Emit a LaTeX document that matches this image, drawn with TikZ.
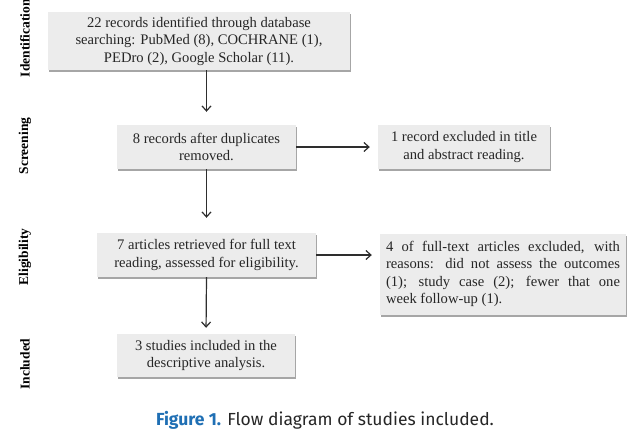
\documentclass[tikz,border=0pt]{standalone}
\usepackage{fontspec}
\setmainfont{Liberation Serif}
\newfontfamily\capfont{Fira Sans}
\usetikzlibrary{arrows.meta,shadows}
\definecolor{boxfill}{HTML}{ECECEC}
\definecolor{capblue}{HTML}{1F6FB4}
\definecolor{linec}{HTML}{2E2E2E}
\tikzset{
  flowbox/.style={rectangle, fill=boxfill, inner sep=3pt, align=center, text=black!85,
    font=\fontsize{14.6}{17.5}\selectfont,
    drop shadow={shadow xshift=0.8pt, shadow yshift=-2pt, fill=black, opacity=0.35}},
  phase/.style={rotate=90, font=\fontsize{13.5}{15}\selectfont\bfseries},
  flowarrow/.style={draw=linec, line width=1.2pt, -{Straight Barb[length=5pt,width=9pt,line width=1.2pt]}}
}
\begin{document}
\begin{tikzpicture}[x=1pt,y=-1pt]
\useasboundingbox (0,0) rectangle (640,447);
\fill[white] (0,0) rectangle (640,447);

\node[phase] (lid) at (25,38) {Identification};
\node[phase] (lsc) at (25,146) {Screening};
\node[phase] (lel) at (25,257) {Eligibility};
\node[phase] (lin) at (25,364) {Included};

\node[flowbox, minimum width=302pt, minimum height=58pt] (b1) at (199,41)
  {22 records identified through database\\searching: PubMed (8), COCHRANE (1),\\PEDro (2), Google Scholar (11).};
\node[flowbox, minimum width=179pt, minimum height=44pt] (b2) at (206.5,147)
  {8 records after duplicates\\removed.};
\node[flowbox, minimum width=172pt, minimum height=44pt] (b3) at (464,147)
  {1 record excluded in title\\and abstract reading.};
\node[flowbox, minimum width=219pt, minimum height=44pt] (b4) at (206.5,255)
  {7 articles retrieved for full text\\reading, assessed for eligibility.};
\node[flowbox, minimum width=246pt, minimum height=81pt, text width=234pt, align=justify] (b5) at (503,274)
  {\hyphenpenalty=10000 4 of full-text articles excluded, with\linebreak reasons: did not assess the outcomes\linebreak (1); study case (2); fewer that one\linebreak week follow-up (1).};
\node[flowbox, minimum width=178pt, minimum height=43pt] (b6) at (206,355.5)
  {3 studies included in the\\descriptive analysis.};

\coordinate (a1s) at (b1.south -| b2.north);
\draw[flowarrow, shorten >=13pt] (a1s) -- (b2.north);
\draw[flowarrow, shorten >=15pt] (b2.south) -- (b4.north);
\draw[flowarrow, shorten >=6pt] (b4.south) -- (b6.north);
\draw[flowarrow, shorten >=8pt] (b2.east) -- (b2.east -| b3.west);
\draw[flowarrow, shorten >=8pt] (b4.east) -- (b4.east -| b5.west);

\node[font=\capfont\fontsize{17.5}{20}\selectfont, text=black!85] (cap) at (325,420)
  {{\color{capblue}\bfseries Figure 1.} Flow diagram of studies included.};
\end{tikzpicture}
\end{document}
